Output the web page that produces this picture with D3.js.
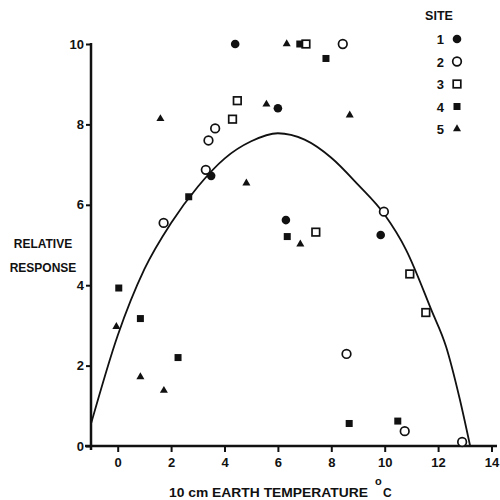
<!DOCTYPE html>
<html>
<head>
<meta charset="utf-8">
<script src="https://cdn.jsdelivr.net/npm/d3@7"></script>
<style>
  html, body { margin: 0; padding: 0; background: #fff; }
  svg { display: block; }
  text { font-family: "Liberation Sans", Arial, Helvetica, sans-serif; font-weight: bold; fill: #111; }
  .tick text { font-size: 13px !important; font-weight: bold !important; font-family: "Liberation Sans", Arial, sans-serif !important; }
</style>
</head>
<body>
<svg id="chart" width="500" height="500"></svg>
<script>
// ---- data ----
const sites = ["1", "2", "3", "4", "5"];
const siteShapes = ["filledCircle", "openCircle", "openSquare", "filledSquare", "filledTriangle"];

const site1X = [3.5, 4.4, 6.0, 6.3, 9.85];
const site1Y = [6.72, 10, 8.4, 5.62, 5.25];

const site2X = [1.72, 3.3, 3.4, 3.65, 8.43, 9.97, 8.57, 10.75, 12.9];
const site2Y = [5.55, 6.87, 7.6, 7.9, 10, 5.83, 2.29, 0.37, 0.1];

const site3X = [4.3, 4.48, 7.05, 7.42, 10.94, 11.54];
const site3Y = [8.13, 8.59, 10, 5.32, 4.28, 3.32];

const site4X = [0.04, 0.85, 2.26, 2.66, 6.35, 6.82, 7.8, 8.67, 10.49];
const site4Y = [3.93, 3.17, 2.2, 6.2, 5.21, 10, 9.64, 0.56, 0.62];

const site5X = [-0.05, 0.85, 1.6, 1.73, 4.82, 5.57, 6.33, 6.84, 8.69];
const site5Y = [2.97, 1.72, 8.14, 1.38, 6.54, 8.5, 10, 5.02, 8.23];

const curveX = [-1, 0, 1, 2, 3, 4, 5, 6, 7, 8, 9, 10, 10.8, 11.75, 12.3, 12.8, 13.2];
const curveY = [0.55, 2.75, 4.4, 5.55, 6.45, 7.15, 7.58, 7.78, 7.62, 7.17, 6.5, 5.75, 4.88, 3.38, 2.47, 1.2, 0];

const xTicks = [0, 2, 4, 6, 8, 10, 12, 14];
const yTicks = [0, 2, 4, 6, 8, 10];

const xTitle = "10 cm  EARTH TEMPERATURE";
const yTitle = ["RELATIVE", "RESPONSE"];
const legendTitle = "SITE";

// ---- drawing ----
const svg = d3.select("#chart");
const x = d3.scaleLinear().domain([-1, 14]).range([91, 491.5]);
const y = d3.scaleLinear().domain([0, 10]).range([446, 44]);

function styleTicks(g) {
  g.attr("font-family", null).attr("font-size", null);
  g.selectAll(".tick line").attr("stroke", "#111").attr("stroke-width", 2);
  g.selectAll(".tick text").attr("fill", "#111");
}

// axes
const xAxis = svg.append("g").attr("transform", "translate(0,446)")
  .call(d3.axisBottom(x).tickValues(xTicks).tickSize(6).tickPadding(6).tickFormat(d3.format("d")));
xAxis.select(".domain").remove();
styleTicks(xAxis);
svg.append("line").attr("x1", 85).attr("x2", 497).attr("y1", 446).attr("y2", 446)
  .attr("stroke", "#111").attr("stroke-width", 2.5);

const yAxis = svg.append("g").attr("transform", "translate(91,0)")
  .call(d3.axisLeft(y).tickValues(yTicks).tickSize(5).tickPadding(2).tickFormat(d3.format("d")));
yAxis.select(".domain").remove();
styleTicks(yAxis);
svg.append("line").attr("x1", 91).attr("x2", 91).attr("y1", 43).attr("y2", 450)
  .attr("stroke", "#111").attr("stroke-width", 2.5);

// axis titles
svg.append("text").attr("x", 169).attr("y", 497)
  .attr("textLength", 199).attr("lengthAdjust", "spacingAndGlyphs")
  .style("font-size", "12px").text(xTitle);
svg.append("text").attr("x", 375).attr("y", 485).style("font-size", "11px").text("o");
svg.append("text").attr("x", 383).attr("y", 497).style("font-size", "12px").text("C");

yTitle.forEach((t, i) => {
  svg.append("text").attr("x", 43).attr("y", 248 + i * 24).attr("text-anchor", "middle")
    .style("font-size", "12px").text(t);
});

// fitted curve
const curvePts = curveX.map((d, i) => [d, curveY[i]]);
svg.append("path").datum(curvePts)
  .attr("fill", "none").attr("stroke", "#111").attr("stroke-width", 1.8)
  .attr("d", d3.line().x(d => x(d[0])).y(d => y(d[1])).curve(d3.curveMonotoneX));

// markers
function drawMarker(g, shape, cx, cy) {
  if (shape === "filledCircle") {
    g.append("circle").attr("cx", cx).attr("cy", cy).attr("r", 4.3).attr("fill", "#111");
  } else if (shape === "openCircle") {
    g.append("circle").attr("cx", cx).attr("cy", cy).attr("r", 4.3).attr("fill", "#fff").attr("stroke", "#111").attr("stroke-width", 1.7);
  } else if (shape === "openSquare") {
    g.append("rect").attr("x", cx - 3.8).attr("y", cy - 3.8).attr("width", 7.6).attr("height", 7.6).attr("fill", "#fff").attr("stroke", "#111").attr("stroke-width", 1.7);
  } else if (shape === "filledSquare") {
    g.append("rect").attr("x", cx - 3.5).attr("y", cy - 3.5).attr("width", 7).attr("height", 7).attr("fill", "#111");
  } else if (shape === "filledTriangle") {
    g.append("path").attr("d", d3.symbol().type(d3.symbolTriangle).size(28)()).attr("transform", `translate(${cx},${cy})`).attr("fill", "#111");
  }
}

const siteData = [[site1X, site1Y], [site2X, site2Y], [site3X, site3Y], [site4X, site4Y], [site5X, site5Y]];
const mg = svg.append("g");
siteData.forEach((s, si) => {
  s[0].forEach((vx, i) => drawMarker(mg, siteShapes[si], x(vx), y(s[1][i])));
});

// legend
svg.append("text").attr("x", 439).attr("y", 20).attr("text-anchor", "middle").style("font-size", "12.5px").text(legendTitle);
const legendY = d3.scalePoint().domain(sites).range([39, 129]);
sites.forEach((s, i) => {
  svg.append("text").attr("x", 444).attr("y", legendY(s) + 5).attr("text-anchor", "end").style("font-size", "13px").text(s);
  drawMarker(svg.append("g"), siteShapes[i], 457, legendY(s));
});
</script>
</body>
</html>
